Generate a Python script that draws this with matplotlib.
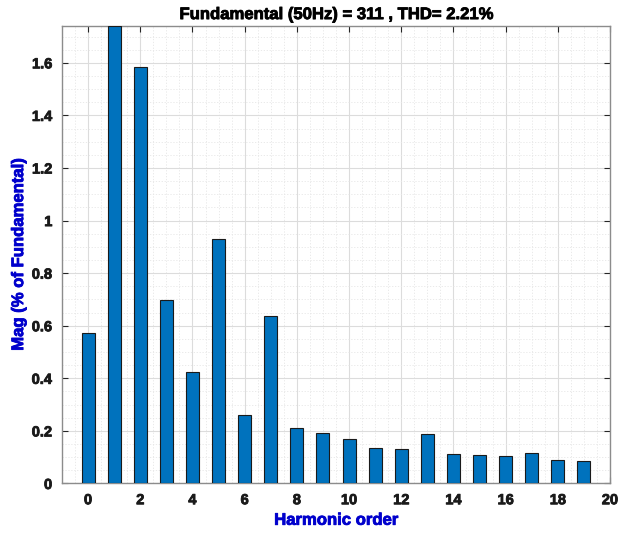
import numpy as np
import matplotlib.pyplot as plt
import matplotlib.patheffects as pe
from matplotlib.ticker import MultipleLocator

plt.rcParams['font.family'] = ['Liberation Sans', 'DejaVu Sans']
plt.rcParams['font.weight'] = 'bold'

# harmonic spectrum, % of fundamental
harmonics = np.arange(0, 20)
mag = [0.574, 1.74, 1.583, 0.696, 0.423, 0.931, 0.261, 0.638, 0.210, 0.191,
       0.168, 0.136, 0.130, 0.188, 0.112, 0.108, 0.103, 0.116, 0.089, 0.086]
fund_amp = 311
fund_freq = 50
thd = 2.21

fig = plt.figure(figsize=(6.32, 5.34), dpi=100)
ax = fig.add_axes([0.0981, 0.0946, 0.8671, 0.8567])

ax.bar(harmonics, mag, width=0.5, color='#0072BD', edgecolor='#1a1a1a',
       linewidth=0.8, zorder=3)

ax.set_xlim(-1, 20)
ax.set_ylim(0, 1.74)
ax.xaxis.set_major_locator(MultipleLocator(2))
ax.xaxis.set_minor_locator(MultipleLocator(0.5))
ax.yaxis.set_minor_locator(MultipleLocator(0.05))
ax.set_yticks(np.arange(0, 1.61, 0.2))
ax.set_yticklabels(['0', '0.2', '0.4', '0.6', '0.8', '1', '1.2', '1.4', '1.6'])

ax.grid(which='major', color='#dcdcdc', linewidth=0.8, zorder=0)
ax.grid(which='minor', color='#e6e6e6', linewidth=0.6, linestyle=(0, (1.5, 2)), zorder=0)
ax.set_axisbelow(True)

ax.tick_params(which='major', direction='in', length=4, width=0.8, color='#262626',
               top=True, right=True, labelsize=10.5, labelcolor='#1a1a1a', pad=7)
ax.tick_params(which='minor', length=0, top=True, right=True)

# heavier strokes on all text
thick = [pe.withStroke(linewidth=0.6, foreground='#1a1a1a')]
thick_blue = [pe.withStroke(linewidth=0.6, foreground='#0000cc')]
for lbl in ax.get_xticklabels() + ax.get_yticklabels():
    lbl.set_fontweight('bold')
    lbl.set_path_effects(thick)
for sp in ax.spines.values():
    sp.set_color('#8c8c8c')
    sp.set_linewidth(1.0)

t = ax.set_title('Fundamental (%dHz) = %d , THD= %.2f%%' % (fund_freq, fund_amp, thd),
                 fontsize=12, fontweight='bold', pad=5)
t.set_path_effects([pe.withStroke(linewidth=0.6, foreground='black')])
xl = ax.set_xlabel('Harmonic order', color='#0000cc', fontsize=12, fontweight='bold', labelpad=4)
yl = ax.set_ylabel('Mag (% of Fundamental)', color='#0000cc', fontsize=12, fontweight='bold', labelpad=4)
xl.set_path_effects(thick_blue)
yl.set_path_effects(thick_blue)

fig.savefig('out.png', dpi=100)
